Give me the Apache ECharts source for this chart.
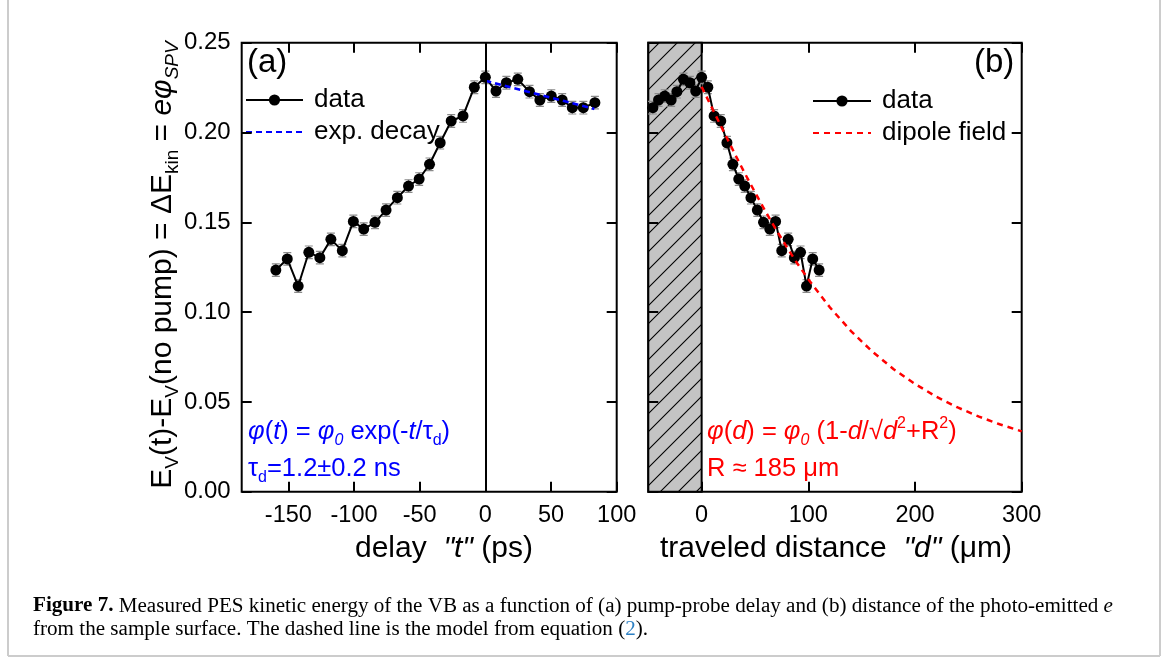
<!DOCTYPE html>
<html><head><meta charset="utf-8">
<script src="https://cdn.jsdelivr.net/npm/echarts@6/dist/echarts.min.js"></script>
<style>html,body{margin:0;padding:0;background:#fff;}#c{width:1167px;height:659px;}</style>
</head><body><div id="c"></div>
<script>
// ---- data ----
const delayPs = [-159.5,-150.8,-142.5,-134.4,-126.0,-117.6,-108.9,-100.5,-92.6,-84.0,-75.6,-67.0,-58.5,-50.4,-42.5,-34.4,-26.0,-17.0,-8.4,0,8.1,16.0,24.7,33.6,41.5,50.2,58.5,66.2,74.6,83.4];
const energyEV = [0.1234,0.1296,0.1145,0.1333,0.1303,0.1405,0.1342,0.1505,0.1462,0.1500,0.1568,0.1637,0.1702,0.1741,0.1823,0.1943,0.2064,0.2092,0.2252,0.2307,0.2231,0.2277,0.2296,0.2227,0.2181,0.2203,0.2181,0.2138,0.2138,0.2166];
const energyErr = [0.0035,0.0035,0.0035,0.0035,0.0035,0.0035,0.0035,0.0035,0.0035,0.0035,0.0035,0.0035,0.0035,0.0035,0.0035,0.0035,0.0035,0.0035,0.0035,0.0035,0.0035,0.0035,0.0035,0.0035,0.0035,0.0035,0.0035,0.0035,0.0035,0.0035];
const distUm = [110.1,104.1,98.3,92.7,86.9,81.1,75.1,69.3,63.9,58.0,52.2,46.2,40.4,34.8,29.3,23.7,17.9,11.7,5.8,0,-5.6,-11.0,-17.0,-23.2,-28.6,-34.6,-40.4,-45.7,-51.5,-57.5];
const expFitPs = [0,20,40,60,83];
const expFitEV = [0.2288,0.2250,0.2213,0.2175,0.2131];
const dipoleUm = [0,10,20,30,40,50,60,70,80,90,100,120,140,160,180,200,220,240,260,280,300];
const dipoleEV = [0.2255,0.2133,0.2013,0.1894,0.1778,0.1667,0.1559,0.1457,0.1360,0.1268,0.1183,0.1028,0.0894,0.0780,0.0682,0.0600,0.0529,0.0469,0.0418,0.0374,0.0336];
const ticksA = [-150,-100,-50,0,50,100];
const ticksB = [0,100,200,300];

// ---- helpers ----
const FF = 'Liberation Sans';
const pair = (xs, ys) => xs.map((x, i) => [x, ys[i]]);
const hatch = document.createElement('canvas');
hatch.width = 18; hatch.height = 18;
(function(){const g = hatch.getContext('2d'); g.fillStyle = '#c4c4c4'; g.fillRect(0,0,18,18);
 g.strokeStyle = '#000'; g.lineWidth = 1.1; g.beginPath();
 g.moveTo(0,18); g.lineTo(18,0); g.moveTo(-3,3); g.lineTo(3,-3); g.moveTo(15,21); g.lineTo(21,15); g.stroke();})();

function errBars(xs, ys, es, xi, yi){
  return {type:'custom', xAxisIndex:xi, yAxisIndex:yi, silent:true, z:2, clip:true,
    data: xs.map((x,i)=>[x, ys[i]-es[i], ys[i]+es[i]]),
    renderItem(p, api){
      const lo = api.coord([api.value(0), api.value(1)]), hi = api.coord([api.value(0), api.value(2)]);
      const w = 4, st = {stroke:'#8a8a8a', lineWidth:1.2};
      return {type:'group', children:[
        {type:'line', shape:{x1:lo[0],y1:lo[1],x2:hi[0],y2:hi[1]}, style:st},
        {type:'line', shape:{x1:lo[0]-w,y1:lo[1],x2:lo[0]+w,y2:lo[1]}, style:st},
        {type:'line', shape:{x1:hi[0]-w,y1:hi[1],x2:hi[0]+w,y2:hi[1]}, style:st}]};
    }};
}
function xAx(gi, min, max, vals, top){
  return {type:'value', gridIndex:gi, min, max, position: top?'top':'bottom', z:10,
    axisLine:{show:false, onZero:false}, splitLine:{show:false},
    axisTick:{show:true, inside:true, length:10, lineStyle:{color:'#000', width:2}, customValues:vals},
    axisLabel:{show:!top, customValues:vals, margin:12, fontFamily:FF, fontSize:23.5, color:'#000', showMinLabel:true, showMaxLabel:true}};
}
function yAx(gi, right, labels){
  return {type:'value', gridIndex:gi, min:0, max:0.25, interval:0.05, position: right?'right':'left', z:10,
    axisLine:{show:false, onZero:false}, splitLine:{show:false},
    axisTick:{show:true, inside:true, length:10, lineStyle:{color:'#000', width:2}},
    axisLabel:{show:labels, margin:11, fontFamily:FF, fontSize:24, color:'#000', formatter:v=>v.toFixed(2)}};
}
const dataLine = (xi, yi, d) => ({name:'data', type:'line', xAxisIndex:xi, yAxisIndex:yi, data:d, z:3,
  symbol:'circle', symbolSize:11, showAllSymbol:true, itemStyle:{color:'#000'}, lineStyle:{color:'#000', width:2}});

const rich = (fill, fs, sub) => ({
  i:{fontStyle:'italic', fontFamily:FF, fontSize:fs, fill, lineHeight:fs+7},
  s:{fontFamily:FF, fontSize:sub, fill, lineHeight:sub, verticalAlign:'bottom'},
  is:{fontStyle:'italic', fontFamily:FF, fontSize:sub, fill, lineHeight:sub, verticalAlign:'bottom'},
  p:{fontFamily:FF, fontSize:sub, fill, lineHeight:sub, verticalAlign:'top'}
});
function txt(x, y, text, fill, fs, sub, align){
  return {type:'text', x, y, silent:true, z:100, style:{text, x:0, y:0, fill, fontFamily:FF, fontSize:fs, lineHeight:fs+7,
    align:align||'left', textAlign:align||'left', verticalAlign:'middle', textVerticalAlign:'middle', rich:rich(fill, fs, sub)}};
}
const legendText = {fontFamily:FF, fontSize:26, color:'#000', lineHeight:26, padding:[0,0,0,6]};
const CS = 21.1;

const option = {
  animation:false,
  backgroundColor:'#fff',
  grid:[
    {left:241.7, top:42.7, width:375, height:449, show:true, borderColor:'#000', borderWidth:2, backgroundColor:'transparent'},
    {left:648.3, top:42.7, width:373.4, height:449, show:true, borderColor:'#000', borderWidth:2, backgroundColor:'transparent'}
  ],
  xAxis:[xAx(0,-185.5,100,ticksA,false), xAx(0,-185.5,100,ticksA,true), xAx(1,-50,300,ticksB,false), xAx(1,-50,300,ticksB,true)],
  yAxis:[yAx(0,false,true), yAx(0,true,false), yAx(1,false,false), yAx(1,true,false)],
  legend:[
    {data:['data','exp. decay'], left:240, top:82, orient:'vertical', itemWidth:57, itemHeight:14, itemGap:6, selectedMode:false, textStyle:legendText},
    {data:['data','dipole field'], left:807, top:83, orient:'vertical', itemWidth:58, itemHeight:14, itemGap:6, selectedMode:false, textStyle:legendText}
  ],
  series:[
    errBars(delayPs, energyEV, energyErr, 0, 0),
    Object.assign(dataLine(0, 0, pair(delayPs, energyEV)), {
      markLine:{silent:true, symbol:'none', label:{show:false}, lineStyle:{color:'#000', width:2, type:'solid'}, data:[{xAxis:0}]}}),
    {name:'exp. decay', type:'line', xAxisIndex:0, yAxisIndex:0, data:pair(expFitPs, expFitEV), z:4, symbol:'none',
      lineStyle:{color:'#0000ff', width:2.5, type:[6,4]}, itemStyle:{color:'rgba(0,0,0,0)'}},
    errBars(distUm, energyEV, energyErr, 2, 2),
    Object.assign(dataLine(2, 2, pair(distUm, energyEV)), {
      markArea:{silent:true, itemStyle:{color:{image:hatch, repeat:'repeat'}, borderColor:'#000', borderWidth:2},
        data:[[{xAxis:-50},{xAxis:0}]]}}),
    {name:'dipole field', type:'line', xAxisIndex:2, yAxisIndex:2, data:pair(dipoleUm, dipoleEV), z:4, symbol:'none',
      lineStyle:{color:'#ff0000', width:2.5, type:[6,5]}, itemStyle:{color:'rgba(0,0,0,0)'}}
  ],
  graphic:[
    txt(247, 63, '(a)', '#000', 33, 20),
    txt(974, 63, '(b)', '#000', 33, 20),
    txt(248, 432, '{i|φ}({i|t}) = {i|φ}{is|0} exp(-{i|t}/τ{s|d})', '#0000ff', 25.5, 16),
    txt(248, 469, 'τ{s|d}=1.2±0.2 ns', '#0000ff', 25.5, 16),
    txt(707, 432, '{i|φ}({i|d}) = {i|φ}{is|0} (1-{i|d}/√{i|d}{p|2}+R{p|2})', '#ff0000', 25.5, 16),
    txt(707, 469, 'R ≈ 185 μm', '#ff0000', 25.5, 16),
    txt(444, 549, 'delay  {i|"t"} (ps)', '#000', 30, 18, 'center'),
    txt(836, 549, 'traveled distance  {i|"d"} (μm)', '#000', 30, 18, 'center'),
    {type:'text', x:163, y:265, rotation:Math.PI/2, silent:true, z:100, style:{
      text:'E{s|V}(t)-E{s|V}(no pump) = ΔE{s|kin} = {i|eφ}{is|SPV}', x:0, y:0, fill:'#000', fontFamily:FF, fontSize:30, lineHeight:38,
      align:'center', textAlign:'center', verticalAlign:'middle', textVerticalAlign:'middle', rich:rich('#000', 30, 19)}},
    {type:'text', x:33, y:606, silent:true, z:100, style:{
      text:'{b|Figure 7.} Measured PES kinetic energy of the VB as a function of (a) pump-probe delay and (b) distance of the photo-emitted {e|e}',
      x:0, y:0, fill:'#000', fontFamily:'Liberation Serif', fontSize:CS, align:'left', verticalAlign:'middle', textVerticalAlign:'middle',
      rich:{b:{fontWeight:'bold', fontFamily:'Liberation Serif', fontSize:CS, fill:'#000'}, e:{fontStyle:'italic', fontFamily:'Liberation Serif', fontSize:CS, fill:'#000'}}}},
    {type:'text', x:33, y:629, silent:true, z:100, style:{
      text:'from the sample surface. The dashed line is the model from equation ({l|2}).',
      x:0, y:0, fill:'#000', fontFamily:'Liberation Serif', fontSize:CS, align:'left', verticalAlign:'middle', textVerticalAlign:'middle',
      rich:{l:{fontFamily:'Liberation Serif', fontSize:CS, fill:'#2b7fc3'}}}},
    {type:'line', silent:true, shape:{x1:8, y1:0, x2:8, y2:656}, style:{stroke:'#cccccc', lineWidth:2}},
    {type:'line', silent:true, shape:{x1:8, y1:656, x2:1160, y2:656}, style:{stroke:'#cccccc', lineWidth:2}},
    {type:'line', silent:true, shape:{x1:1160, y1:0, x2:1160, y2:656}, style:{stroke:'#cccccc', lineWidth:2}}
  ]
};
const chart = echarts.init(document.getElementById('c'), null, {renderer:'canvas'});
chart.setOption(option);
</script></body></html>
